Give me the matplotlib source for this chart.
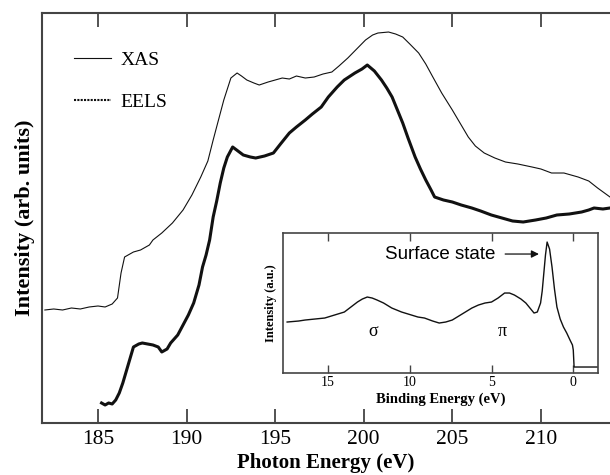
import matplotlib.pyplot as plt
from matplotlib.lines import Line2D

plt.rcParams['font.family'] = ['Liberation Serif', 'DejaVu Serif']

# XAS (thin line) - photon energy (eV) vs intensity (arb. units)
xas_e = [182.0, 182.5, 183.0, 183.5, 184.0, 184.5, 185.0, 185.4, 185.8, 186.1, 186.3, 186.5,
         187.0, 187.4, 187.9, 188.1, 188.6, 189.2, 189.8, 190.3, 190.8, 191.2, 191.5, 191.8,
         192.1, 192.5, 192.85, 193.1, 193.4, 193.8, 194.1, 194.6, 195.0, 195.4, 195.8, 196.2,
         196.7, 197.2, 197.7, 198.2, 198.6, 199.1, 199.6, 200.1, 200.5, 200.8, 201.4, 201.8,
         202.2, 202.6, 203.1, 203.5, 203.9, 204.4, 205.0, 205.5, 205.9, 206.3, 206.8, 207.4,
         208.0, 208.7, 209.5, 210.0, 210.6, 211.3, 212.1, 212.7, 213.2, 213.9]
xas_i = [113, 114, 113, 115, 114, 116, 117, 116, 119, 125, 150, 166,
         171, 173, 178, 183, 190, 200, 213, 228, 246, 262, 283, 303,
         323, 345, 350, 347, 343, 340, 338, 341, 343, 345, 344, 347,
         345, 346, 349, 351, 357, 365, 374, 383, 388, 390, 391, 389,
         386, 379, 370, 359, 346, 330, 313, 298, 286, 277, 270, 265,
         261, 259, 256, 254, 250, 250, 246, 242, 235, 226]

# EELS (thick line)
eels_e = [185.2, 185.4, 185.6, 185.8, 186.0, 186.2, 186.4, 186.6, 186.8, 187.0, 187.3, 187.5,
          187.8, 188.1, 188.4, 188.6, 188.9, 189.1, 189.5, 189.8, 190.1, 190.4, 190.7, 190.9,
          191.1, 191.3, 191.5, 191.7, 191.9, 192.1, 192.3, 192.6, 192.9, 193.2, 193.6, 193.9,
          194.4, 194.9, 195.3, 195.8, 196.2, 196.7, 197.1, 197.6, 198.0, 198.5, 198.9, 199.5,
          199.9, 200.2, 200.6, 201.0, 201.3, 201.6, 201.9, 202.2, 202.5, 202.9, 203.2, 203.5,
          203.8, 204.0, 204.5, 205.0, 205.5, 206.1, 206.6, 207.2, 207.8, 208.4, 209.0, 209.7,
          210.3, 210.9, 211.6, 212.3, 212.7, 213.0, 213.5, 213.9]
eels_i = [20, 18, 20, 19, 23, 30, 40, 52, 64, 76, 79, 80,
          79, 78, 76, 71, 74, 80, 88, 98, 108, 120, 138, 156,
          168, 183, 206, 222, 240, 255, 266, 276, 272, 268, 266, 265,
          267, 270, 279, 290, 296, 303, 309, 316, 326, 336, 343, 350,
          354, 358, 352, 343, 335, 326, 313, 300, 285, 266, 254, 243,
          233, 226, 223, 221, 218, 215, 212, 208, 205, 202, 201, 203,
          205, 208, 209, 211, 213, 215, 214, 215]

# inset: photoemission spectrum, binding energy (eV) vs intensity (a.u.)
pes_be = [17.5, 16.8, 16.4, 15.8, 15.2, 14.6, 14.0, 13.6, 13.2, 12.9, 12.6, 12.3, 12.0, 11.6,
          11.1, 10.5, 9.9, 9.5, 9.1, 8.6, 8.2, 7.8, 7.4, 7.0, 6.6, 6.2, 5.8, 5.4, 5.0, 4.6,
          4.2, 3.9, 3.6, 3.2, 2.9, 2.6, 2.4, 2.2, 2.0, 1.9, 1.8, 1.7, 1.6, 1.45, 1.3, 1.15,
          1.0, 0.8, 0.6, 0.4, 0.2, 0.05, 0.0, -0.05, -0.5, -1.0, -1.5]
pes_i = [51, 52, 53, 54, 55, 58, 61, 66, 71, 74, 76, 75, 73, 70,
         65, 61, 58, 56, 55, 52, 50, 51, 53, 57, 61, 65, 68, 70, 71, 75,
         80, 80, 78, 74, 70, 64, 60, 61, 70, 82, 100, 118, 131, 124, 106, 84,
         66, 54, 46, 40, 33, 28, 23, 6, 6, 6, 6]

main_ticks = [185, 190, 195, 200, 205, 210]
inset_ticks = [15, 10, 5, 0]

fig = plt.figure(figsize=(6.1, 4.75), dpi=100)
ax = fig.add_axes([0.0689, 0.1095, 0.9311, 0.8631])

ax.plot(xas_e, xas_i, color='#111111', lw=0.8)
ax.plot(eels_e, eels_i, color='#111111', lw=2.2)

ax.set_xlim(181.84, 213.9)
ax.set_ylim(0, 410)
ax.set_xticks(main_ticks)
ax.set_yticks([])
ax.tick_params(axis='x', direction='in', length=10, width=1.3, top=True,
               labelsize=15.5, pad=5, color='#444444')
for s in ['left', 'bottom', 'top']:
    ax.spines[s].set_linewidth(1.5)
    ax.spines[s].set_color('#444444')
ax.spines['right'].set_visible(False)
ax.set_xlabel('Photon Energy (eV)', fontsize=15, fontweight='bold', labelpad=3)
ax.set_ylabel('Intensity (arb. units)', fontsize=16, fontweight='bold', labelpad=5)

handles = [Line2D([], [], color='#111111', lw=0.8),
           Line2D([], [], color='#111111', lw=1.5, ls=(0, (1, 0.6)))]
ax.legend(handles, ['XAS', 'EELS'], loc='upper left', bbox_to_anchor=(0.025, 0.95),
          frameon=False, fontsize=14, handlelength=1.9, handletextpad=0.5,
          labelspacing=1.25)

# inset
ins = fig.add_axes([0.464, 0.2147, 0.516, 0.2947])
ins.plot(pes_be, pes_i, color='#111111', lw=1.0)
ins.set_xlim(17.75, -1.5)
ins.set_ylim(0, 140)
ins.set_xticks(inset_ticks)
ins.set_yticks([])
ins.tick_params(axis='x', direction='in', length=6, width=1.0, top=True,
                labelsize=10, pad=2, color='#444444')
for s in ins.spines.values():
    s.set_linewidth(1.2)
    s.set_color('#444444')
ins.set_xlabel('Binding Energy (eV)', fontsize=10.5, fontweight='bold', labelpad=3)
ins.set_ylabel('Intensity (a.u.)', fontsize=9, fontweight='bold', labelpad=4)
ins.text(12.26, 42, 'σ', fontsize=13, ha='center', va='center')
ins.text(4.33, 42, 'π', fontsize=13, ha='center', va='center')
ins.annotate('Surface state', xy=(2.1, 119), xytext=(4.76, 119),
             fontsize=13.5, family=['Liberation Sans', 'DejaVu Sans'],
             ha='right', va='center',
             arrowprops=dict(arrowstyle='-|>', color='#111111', lw=0.9,
                             mutation_scale=11, shrinkA=5, shrinkB=0))

fig.savefig('out.png', dpi=100)
